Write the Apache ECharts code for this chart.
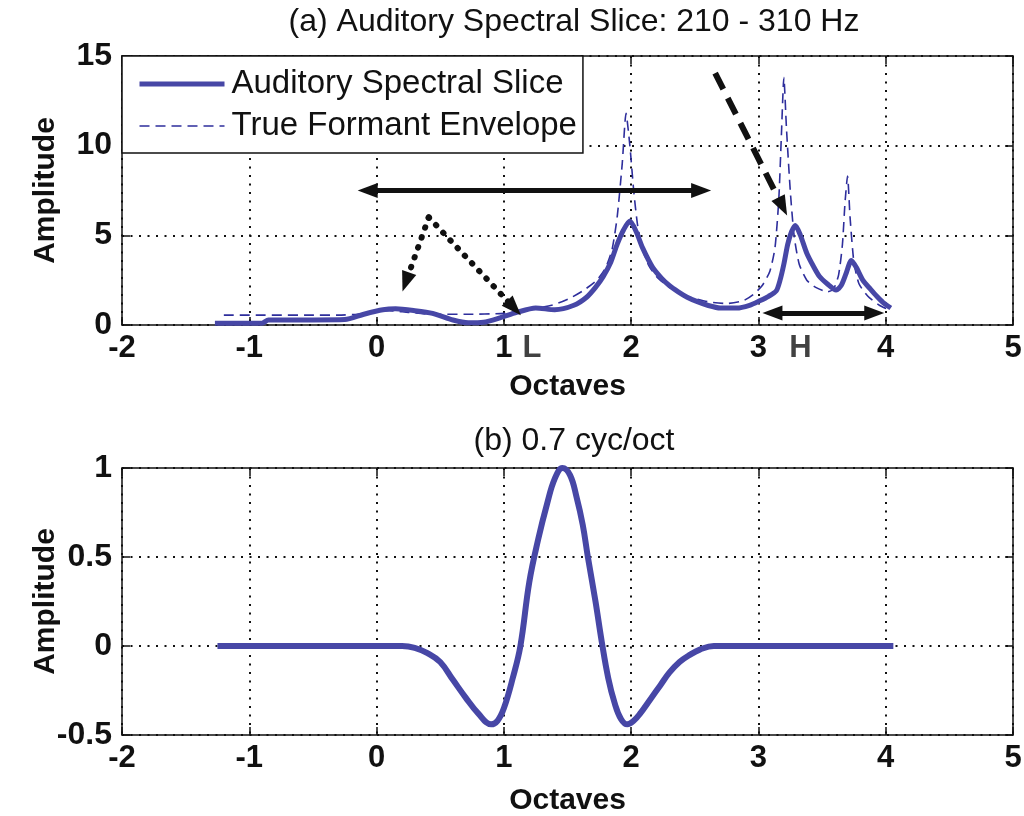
<!DOCTYPE html>
<html>
<head>
<meta charset="utf-8">
<script src="https://cdn.jsdelivr.net/npm/echarts@6/dist/echarts.min.js"></script>
<style>
html,body{margin:0;padding:0;background:#fff;}
#c{width:1024px;height:816px;}
</style>
</head>
<body>
<div id="c"></div>
<script>
// ---- Data ----
const sliceX = [-1.27, -0.9, -0.85, -0.5, -0.25, -0.1, 0.05, 0.15, 0.3, 0.44, 0.6, 0.72, 0.84, 0.97, 1.1, 1.25, 1.4, 1.55, 1.65, 1.72, 1.78, 1.84, 1.89, 1.94, 1.99, 2.04, 2.09, 2.17, 2.24, 2.30, 2.37, 2.44, 2.52, 2.60, 2.70, 2.83, 2.93, 3.01, 3.08, 3.14, 3.17, 3.20, 3.23, 3.26, 3.29, 3.33, 3.38, 3.43, 3.48, 3.54, 3.61, 3.65, 3.69, 3.73, 3.77, 3.82, 3.88, 3.93, 3.98, 4.04];
const sliceY = [0.1, 0.1, 0.28, 0.28, 0.3, 0.6, 0.85, 0.9, 0.8, 0.65, 0.28, 0.12, 0.15, 0.4, 0.7, 0.95, 0.85, 1.1, 1.55, 2.1, 2.7, 3.5, 4.5, 5.3, 5.8, 5.2, 4.3, 3.2, 2.6, 2.2, 1.85, 1.55, 1.3, 1.1, 0.95, 0.95, 1.1, 1.35, 1.6, 1.9, 2.5, 3.4, 4.5, 5.2, 5.55, 5.0, 4.0, 3.3, 2.7, 2.3, 1.95, 2.2, 2.9, 3.6, 3.2, 2.5, 2.0, 1.6, 1.25, 0.95];

const envX = [-1.2, -0.3, -0.15, 0.0, 0.1, 0.25, 0.45, 0.7, 1.0, 1.2, 1.4, 1.52, 1.62, 1.73, 1.80, 1.85, 1.89, 1.93, 1.96, 1.99, 2.02, 2.05, 2.09, 2.14, 2.2, 2.3, 2.44, 2.6, 2.75, 2.88, 2.96, 3.03, 3.09, 3.13, 3.16, 3.18, 3.20, 3.22, 3.25, 3.28, 3.32, 3.38, 3.45, 3.54, 3.59, 3.63, 3.66, 3.68, 3.70, 3.72, 3.75, 3.79, 3.86, 3.95, 4.04];
const envY = [0.55, 0.55, 0.6, 0.75, 0.8, 0.7, 0.6, 0.6, 0.65, 0.85, 1.15, 1.5, 1.9, 2.5, 3.2, 4.2, 6.0, 9.0, 11.8, 10.0, 7.5, 5.6, 4.2, 3.3, 2.7, 2.1, 1.6, 1.3, 1.2, 1.35, 1.7, 2.2, 3.0, 4.3, 7.0, 10.5, 13.8, 11.0, 7.5, 5.0, 3.4, 2.5, 2.1, 1.85, 2.0, 2.8, 4.5, 6.8, 8.3, 6.0, 3.5, 2.3, 1.6, 1.1, 0.8];

const filtX = [-1.25, 0.2, 0.3, 0.4, 0.5, 0.6, 0.7, 0.8, 0.9, 0.95, 1.0, 1.07, 1.13, 1.2, 1.27, 1.34, 1.4, 1.46, 1.52, 1.57, 1.62, 1.66, 1.72, 1.77, 1.82, 1.87, 1.92, 1.97, 2.02, 2.07, 2.15, 2.23, 2.30, 2.38, 2.46, 2.54, 2.65, 4.06];
const filtY = [0, 0, -0.01, -0.04, -0.09, -0.19, -0.29, -0.38, -0.44, -0.42, -0.35, -0.18, 0.0, 0.36, 0.6, 0.8, 0.94, 1.0, 0.96, 0.84, 0.68, 0.5, 0.25, 0.02, -0.18, -0.32, -0.41, -0.44, -0.42, -0.38, -0.3, -0.22, -0.15, -0.09, -0.05, -0.02, 0, 0];

const xTicks = {min: -2, max: 5, interval: 1};
const yTicksA = {min: 0, max: 15, interval: 5};
const yTicksB = {min: -0.5, max: 1, interval: 0.5};

const titleA = '(a) Auditory Spectral Slice: 210 - 310 Hz';
const titleB = '(b) 0.7 cyc/oct';
const seriesNames = ['Auditory Spectral Slice', 'True Formant Envelope'];

// annotation arrows (data units)
const longArrow = [[-0.07, 7.5], [2.55, 7.5]];
const dotApex = [0.41, 6.0];
const dotEnds = [[0.23, 2.4], [1.08, 0.95]];
const dashArrow = [[2.66, 14.05], [3.19, 6.6]];
const highArrow = [[3.11, 0.67], [3.91, 0.67]];
const bandLabels = [['L', 1.22], ['H', 3.33]];

const pairs = (xs, ys) => xs.map((x, i) => [x, ys[i]]);

const FONT = "'Liberation Sans', Arial, sans-serif";
const BLUE = '#4747a6';
const DASHBLUE = '#2e2e9c';
const INK = '#111';

function xAxisPair(gi) {
  return [{
    type: 'value', gridIndex: gi, ...xTicks,
    name: 'Octaves', nameLocation: 'middle', nameGap: gi === 0 ? 47 : 51, nameMoveOverlap: false,
    nameTextStyle: {fontFamily: FONT, fontSize: 30, color: INK, fontWeight: 'bold'},
    axisLine: {onZero: false, lineStyle: {color: INK, width: 1.5}},
    axisTick: {inside: true, length: 8, lineStyle: {color: INK, width: 1.5}},
    axisLabel: {fontFamily: FONT, fontSize: 31, color: INK, margin: 8, fontWeight: 'bold'},
    splitLine: {show: true, lineStyle: {color: INK, type: [2, 6.5], width: 2}}
  }, {
    type: 'value', gridIndex: gi, position: 'top', ...xTicks,
    axisLine: {onZero: false, lineStyle: {color: INK, width: 1.5}},
    axisTick: {inside: true, length: 8, lineStyle: {color: INK, width: 1.5}},
    axisLabel: {show: false}, splitLine: {show: false}
  }];
}
function yAxisPair(gi, ticks, fmt) {
  return [{
    type: 'value', gridIndex: gi, ...ticks,
    name: 'Amplitude', nameLocation: 'middle', nameGap: 61, nameMoveOverlap: false,
    nameTextStyle: {fontFamily: FONT, fontSize: 30, color: INK, fontWeight: 'bold'},
    axisLine: {onZero: false, lineStyle: {color: INK, width: 1.5}},
    axisTick: {inside: true, length: 8, lineStyle: {color: INK, width: 1.5}},
    axisLabel: {fontFamily: FONT, fontSize: 32, color: INK, margin: 10, fontWeight: 'bold', formatter: fmt},
    splitLine: {show: true, lineStyle: {color: INK, type: [2, 6.5], width: 2}}
  }, {
    type: 'value', gridIndex: gi, position: 'right', ...ticks,
    axisLine: {onZero: false, lineStyle: {color: INK, width: 1.5}},
    axisTick: {inside: true, length: 8, lineStyle: {color: INK, width: 1.5}},
    axisLabel: {show: false}, splitLine: {show: false}
  }];
}

const arrowHead = {symbol: 'triangle', symbolSize: [15, 20]};
const markArrows = {
  silent: true, animation: false, label: {show: false},
  symbol: ['none', 'none'],
  data: [
    [{coord: longArrow[0], ...arrowHead, lineStyle: {color: INK, width: 5, type: 'solid'}}, {coord: longArrow[1], ...arrowHead}],
    [{coord: dotApex, symbol: 'none', lineStyle: {color: INK, width: 6, type: [0.5, 10], cap: 'round'}}, {coord: dotEnds[0], ...arrowHead}],
    [{coord: dotApex, symbol: 'none', lineStyle: {color: INK, width: 6, type: [0.5, 10], cap: 'round'}}, {coord: dotEnds[1], ...arrowHead}],
    [{coord: dashArrow[0], symbol: 'none', lineStyle: {color: INK, width: 6, type: [18, 10]}}, {coord: dashArrow[1], ...arrowHead}],
    [{coord: highArrow[0], ...arrowHead, lineStyle: {color: INK, width: 5, type: 'solid'}}, {coord: highArrow[1], ...arrowHead}]
  ]
};

const option = {
  animation: false,
  backgroundColor: '#fff',
  title: [
    {text: titleA, left: 569, top: 1, textAlign: 'center', textStyle: {fontFamily: FONT, fontSize: 32, fontWeight: 'normal', color: INK}},
    {text: titleB, left: 569, top: 420, textAlign: 'center', textStyle: {fontFamily: FONT, fontSize: 32, fontWeight: 'normal', color: INK}}
  ],
  legend: {
    show: true, orient: 'vertical', left: 122, top: 56,
    data: [
      {name: seriesNames[0], lineStyle: {width: 5, color: BLUE}},
      {name: seriesNames[1], lineStyle: {width: 1.6, color: DASHBLUE, type: [10, 6]}}
    ],
    itemStyle: {opacity: 0, borderWidth: 0},
    backgroundColor: '#fff', borderColor: INK, borderWidth: 1.5, borderRadius: 0,
    padding: [10, 6, 9, 15], itemGap: 6, itemWidth: 85, itemHeight: 14,
    textStyle: {fontFamily: FONT, fontSize: 33, color: INK, lineHeight: 36, padding: [0, 0, 0, 2]}
  },
  grid: [
    {left: 122, top: 56, width: 891, height: 269, outerBoundsMode: 'none', containLabel: false},
    {left: 122, top: 468, width: 891, height: 267, outerBoundsMode: 'none', containLabel: false}
  ],
  xAxis: [...xAxisPair(0), ...xAxisPair(1)],
  yAxis: [...yAxisPair(0, yTicksA), ...yAxisPair(1, yTicksB, v => (v === 0 ? '0' : String(v)))],
  series: [
    {
      name: seriesNames[0], type: 'line', xAxisIndex: 0, yAxisIndex: 0,
      data: pairs(sliceX, sliceY), showSymbol: false, symbol: 'none', smooth: 0.25,
      lineStyle: {color: BLUE, width: 5}, itemStyle: {color: BLUE}, z: 3,
      markLine: markArrows
    },
    {
      name: seriesNames[1], type: 'line', xAxisIndex: 0, yAxisIndex: 0,
      data: pairs(envX, envY), showSymbol: false, symbol: 'none', smooth: 0.2,
      lineStyle: {color: DASHBLUE, width: 1.6, type: [10, 6]}, itemStyle: {color: DASHBLUE}, z: 2
    },
    {
      name: 'bands', type: 'scatter', xAxisIndex: 0, yAxisIndex: 0, clip: false,
      data: bandLabels.map(b => ({value: [b[1], 0], name: b[0]})),
      symbolSize: 0, silent: true,
      label: {show: true, formatter: p => p.name, position: 'inside', offset: [0, 23],
        fontFamily: FONT, fontSize: 31, fontWeight: 'bold', color: INK}
    },
    {
      name: 'filter', type: 'line', xAxisIndex: 2, yAxisIndex: 2,
      data: pairs(filtX, filtY), showSymbol: false, symbol: 'none', smooth: 0.4,
      lineStyle: {color: BLUE, width: 6}
    }
  ]
};

const chart = echarts.init(document.getElementById('c'), null, {renderer: 'canvas'});
chart.setOption(option);
</script>
</body>
</html>
